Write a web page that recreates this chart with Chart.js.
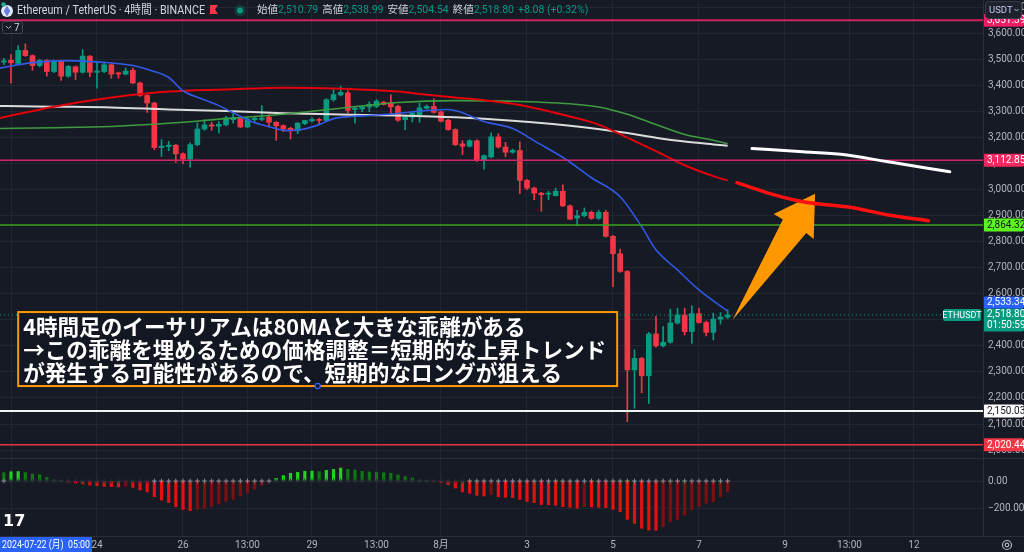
<!DOCTYPE html>
<html lang="ja">
<head>
<meta charset="utf-8">
<title>ETHUSDT 4時間</title>
<script src="https://cdn.jsdelivr.net/npm/chart.js@4.4.1/dist/chart.umd.min.js"></script>
<style>
  html, body { margin: 0; padding: 0; background: #161a25; overflow: hidden; }
  canvas { display: block; }
</style>
</head>
<body>
<canvas id="chart" width="1024" height="552"></canvas>
<script>
// ---- ETHUSDT 4h candles, oldest first (bar n is at x = n) ----
const opens = [
  3490, 3490, 3497, 3485, 3535, 3515, 3477, 3497, 3454, 3495,
  3436, 3472, 3451, 3513, 3451, 3454, 3480, 3449, 3444, 3459,
  3410, 3362, 3333, 3162, 3166, 3171, 3138, 3118, 3173, 3233,
  3249, 3244, 3249, 3269, 3274, 3241, 3269, 3270, 3279, 3259,
  3246, 3236, 3226, 3254, 3264, 3270, 3266, 3346, 3364, 3372,
  3308, 3310, 3318, 3320, 3336, 3333, 3320, 3269, 3279, 3288,
  3313, 3320, 3299, 3267, 3231, 3176, 3167, 3188, 3115, 3126,
  3203, 3164, 3144, 3151, 3036, 3006, 2987, 2983, 2977, 2994,
  2938, 2891, 2900, 2913, 2890, 2913, 2821, 2754, 2686, 2308,
  2352, 2285, 2446, 2400, 2414, 2488, 2519, 2455, 2524, 2490,
  2452, 2503, 2510.79
];
const highs = [
  3500, 3505, 3519, 3554, 3560, 3518, 3500, 3500, 3498, 3498,
  3477, 3475, 3538, 3515, 3492, 3490, 3484, 3452, 3467, 3467,
  3413, 3365, 3336, 3192, 3186, 3174, 3142, 3180, 3256, 3269,
  3259, 3262, 3282, 3295, 3278, 3277, 3282, 3323, 3289, 3262,
  3249, 3240, 3257, 3267, 3277, 3274, 3350, 3391, 3397, 3380,
  3320, 3323, 3338, 3346, 3340, 3365, 3325, 3285, 3297, 3333,
  3326, 3349, 3302, 3270, 3234, 3188, 3192, 3192, 3134, 3218,
  3215, 3182, 3156, 3184, 3040, 3010, 2990, 2994, 3006, 3019,
  2942, 2921, 2930, 2918, 2921, 2921, 2825, 2772, 2690, 2385,
  2356, 2452, 2513, 2474, 2541, 2545, 2545, 2554, 2545, 2495,
  2526, 2528, 2538.99
];
const lows = [
  3485, 3480, 3410, 3483, 3512, 3459, 3472, 3436, 3450, 3420,
  3432, 3423, 3448, 3433, 3390, 3450, 3428, 3428, 3441, 3407,
  3358, 3297, 3154, 3128, 3150, 3105, 3100, 3087, 3168, 3228,
  3228, 3218, 3245, 3256, 3238, 3238, 3262, 3265, 3246, 3190,
  3223, 3195, 3215, 3250, 3260, 3250, 3263, 3340, 3360, 3295,
  3256, 3300, 3300, 3315, 3325, 3288, 3262, 3231, 3260, 3259,
  3310, 3294, 3260, 3228, 3170, 3135, 3164, 3108, 3079, 3122,
  3160, 3126, 3140, 2985, 3000, 2962, 2917, 2962, 2975, 2935,
  2885, 2862, 2896, 2886, 2886, 2818, 2628, 2682, 2109, 2160,
  2220, 2179, 2395, 2396, 2410, 2484, 2442, 2410, 2487, 2438,
  2423, 2484, 2504.54
];
const closes = [
  3497, 3495, 3487, 3535, 3515, 3477, 3497, 3454, 3495, 3436,
  3474, 3451, 3513, 3451, 3456, 3480, 3444, 3444, 3456, 3410,
  3362, 3333, 3162, 3167, 3171, 3138, 3118, 3173, 3233, 3249,
  3244, 3251, 3276, 3277, 3241, 3272, 3274, 3275, 3259, 3245,
  3233, 3226, 3256, 3266, 3270, 3266, 3346, 3365, 3374, 3305,
  3313, 3318, 3328, 3340, 3328, 3318, 3267, 3279, 3295, 3314,
  3320, 3297, 3263, 3231, 3173, 3167, 3188, 3112, 3131, 3203,
  3164, 3144, 3151, 3036, 3006, 2987, 2981, 2987, 2994, 2938,
  2887, 2900, 2913, 2890, 2913, 2821, 2754, 2686, 2308, 2352,
  2285, 2446, 2400, 2414, 2488, 2519, 2455, 2524, 2490, 2452,
  2503, 2510.72, 2518.80
];

// ---- Squeeze momentum histogram, one value per bar ----
const momentum = [
  null, 62, 69, 70, 62, 52, 47, 27, 7, 2,
  -7, -15, -22, -30, -35, -40, -42, -44, -38, -47,
  -67, -81, -116, -141, -160, -190, -210, -220, -210, -202,
  -190, -170, -151, -136, -111, -86, -62, -32, -5, 20,
  40, 57, 64, 72, 74, 69, 79, 86, 96, 86,
  81, 72, 67, 66, 62, 57, 44, 32, 22, 7,
  3, -2, -12, -27, -52, -81, -91, -106, -111, -101,
  -116, -121, -123, -136, -151, -160, -175, -176, -180, -190,
  -195, -202, -190, -191, -195, -197, -210, -227, -284, -314,
  -350, -363, -365, -338, -301, -284, -252, -215, -190, -165,
  -153, -116, -79
];
// bars where the squeeze is off (grey crosses on the zero line)
const squeezeOffRanges = [[2, 2], [23, 39], [67, 103]];

// ---- Moving averages (bar position, value) ----
const maShortIdx = [1, 6, 11, 15.5, 20, 22.5, 25, 27, 29.5, 32, 34, 36.5, 39, 41.5, 43.5, 46, 48, 50.5, 53,
                    56.5, 61, 64, 65.5, 69, 73, 76.5, 80.5, 84, 88, 91, 93, 96, 99, 103];
const maShortVal = [3465, 3488, 3496, 3490, 3477, 3458, 3431, 3380, 3350, 3323, 3296, 3262, 3242, 3227, 3231, 3250, 3273, 3281, 3285,
                    3292, 3304, 3308, 3300, 3262, 3235, 3180, 3115, 3046, 2973, 2858, 2769, 2692, 2615, 2533.34];
const ma80Idx = [1, 9, 17, 25, 33, 41, 49, 57, 61, 65, 69, 73, 77, 81, 85, 89, 93, 97, 101, 103];
const ma80Val = [3273, 3319, 3354, 3377, 3385, 3392, 3388, 3377, 3365, 3354, 3344, 3330, 3308, 3281, 3250, 3200, 3148, 3094, 3052, 3035];
const maMidIdx = [1, 9, 17, 25, 33, 41, 49, 57, 65, 73, 81, 85, 89, 93, 97, 101, 103];
const maMidVal = [3235, 3238, 3243, 3255, 3273, 3290, 3313, 3335, 3342, 3340, 3330, 3318, 3290, 3250, 3212, 3190, 3177];
const maLongIdx = [1, 9, 17, 25, 33, 41, 49, 57, 65, 73, 81, 89, 93, 97, 101, 103];
const maLongVal = [3322, 3319, 3316, 3308, 3302, 3294, 3289, 3285, 3278, 3265, 3246, 3218, 3200, 3185, 3174, 3169];

// hand-drawn continuation of the 80MA and the long MA
const ma80ProjIdx = [104.3, 108.9, 113.5, 120.5, 125.2, 131];
const ma80ProjVal = [3027, 2985, 2954, 2931, 2904, 2881];
const maLongProjIdx = [106.4, 113.5, 119.1, 125.2, 134];
const maLongProjVal = [3158, 3146, 3135, 3108, 3069];

// ---- Horizontal levels ----
const levelPrices = [3651.39, 3112.85, 2864.32, 2150.03, 2020.44];

// ---- Axis ticks ----
const priceTicks = [2000, 2100, 2200, 2300, 2400, 2500, 2600, 2700, 2800, 2900, 3000, 3100, 3200, 3300, 3400, 3500, 3600, 3700];
const momentumTicks = [0, -200];
const timeTickIdx = [3, 15, 27, 36, 45, 54, 63, 75, 87, 99, 111, 120, 129];
const timeTickLabels = ['22', '24', '26', '13:00', '29', '13:00', '8月', '3', '5', '7', '9', '13:00', '12'];

// ---- Texts ----
const symbolTitle = 'Ethereum / TetherUS · 4時間 · BINANCE';
const ohlcLabels = ['始値', '高値', '安値', '終値'];
const barCountdown = '01:50:59';
const crosshairTime = '2024-07-22 (月)  05:00';
const noteLines = [
  '4時間足のイーサリアムは80MAと大きな乖離がある',
  '→この乖離を埋めるための価格調整＝短期的な上昇トレンド',
  'が発生する可能性があるので、短期的なロングが狙える'
];
const noteAnchor = [4, 2530];        // top-left corner of the note (bar, price)
const arrowTail = [103.7, 2500];     // arrow start (bar, price)
const arrowTip = [115.2, 2984];      // arrow head (bar, price)

// ---------------------------------------------------------------------------
const BG = '#161a25';
const GRID = 'rgba(42,46,57,0.6)';
const BORDER = '#2a2e39';
const AXIS_TEXT = '#b2b5be';
const UP = '#089981';
const DOWN = '#f23645';
const FONT = 'Roboto, "Noto Sans CJK JP", sans-serif';
const VIEW = { xMin: 1.465, xMax: 138.63, pMin: 1969.4, pMax: 3728.7, mMin: -407.4, mMax: 170.4 };

const levelStyles = [
  { line: '#d3215f', width: 2,   box: '#e91e63', text: '#ffffff' },
  { line: '#d6246a', width: 1.5, box: '#f2295f', text: '#ffffff' },
  { line: '#3aa51c', width: 1.5, box: '#5cf51f', text: '#131722' },
  { line: '#f2f2f2', width: 2,   box: '#ffffff', text: '#131722' },
  { line: '#e8323c', width: 1.5, box: '#f23645', text: '#ffffff' }
];

const fmt = v => (v < 0 ? '\u2212' : '') + Math.abs(v).toLocaleString('en-US', { minimumFractionDigits: 2, maximumFractionDigits: 2 });

const bars = opens.map((o, i) => i + 1);
const candleColors = bars.map((k, i) => closes[i] >= opens[i] ? UP : DOWN);

const momColors = momentum.map((v, i) => {
  if (v === null) return 'rgba(0,0,0,0)';
  const prev = i > 0 && momentum[i - 1] !== null ? momentum[i - 1] : v;
  if (v >= 0) return v > prev ? '#1fd41f' : '#0f7a12';
  return v < prev ? '#e3120f' : '#7c0f10';
});
const squeezeColors = bars.map(k =>
  squeezeOffRanges.some(r => k >= r[0] && k <= r[1]) ? '#8a8d96' : '#2a2e39');

const pts = (xs, ys) => xs.map((x, i) => ({ x, y: ys[i] }));
const lineSet = (label, data, color, width, order, extra) => Object.assign({
  type: 'line', label, data, borderColor: color, borderWidth: width, pointRadius: 0, pointHoverRadius: 0,
  tension: 0.4, cubicInterpolationMode: 'monotone', fill: false, order, xAxisID: 'x', yAxisID: 'y'
}, extra || {});

const datasets = [
  lineSet('ma80proj', pts(ma80ProjIdx, ma80ProjVal), '#ff1010', 3.5, 0, { borderCapStyle: 'round' }),
  lineSet('maLongProj', pts(maLongProjIdx, maLongProjVal), '#ffffff', 3, 1, { borderCapStyle: 'round' })
];
levelPrices.forEach((p, i) => {
  datasets.push(lineSet('level' + i, [{ x: VIEW.xMin, y: p }, { x: VIEW.xMax, y: p }],
    levelStyles[i].line, levelStyles[i].width, 2, { tension: 0 }));
});
datasets.push(
  lineSet('lastPrice', [{ x: VIEW.xMin, y: closes[closes.length - 1] }, { x: VIEW.xMax, y: closes[closes.length - 1] }],
    UP, 1, 3, { tension: 0, borderDash: [1, 3] }),
  lineSet('maShort', pts(maShortIdx, maShortVal), '#3159e6', 1.6, 4),
  lineSet('ma80', pts(ma80Idx, ma80Val), '#e3000b', 2, 4),
  lineSet('maMid', pts(maMidIdx, maMidVal), '#3f9b3f', 1.6, 5),
  lineSet('maLong', pts(maLongIdx, maLongVal), '#dcdcdc', 2, 5),
  {
    type: 'bar', label: 'bodies', data: bars.map((k, i) => ({ x: k, y: [opens[i], closes[i]] })),
    backgroundColor: candleColors, borderWidth: 0, barThickness: 5, maxBarThickness: 5,
    grouped: false, minBarLength: 1, order: 7, xAxisID: 'x', yAxisID: 'y'
  },
  {
    type: 'bar', label: 'wicks', data: bars.map((k, i) => ({ x: k, y: [lows[i], highs[i]] })),
    backgroundColor: candleColors, borderWidth: 0, barThickness: 1, maxBarThickness: 1,
    grouped: false, order: 8, xAxisID: 'x', yAxisID: 'y'
  },
  {
    type: 'scatter', label: 'squeeze', data: bars.slice(1).map(k => ({ x: k, y: 0 })),
    pointStyle: 'cross', pointRadius: 2.4, pointHoverRadius: 0, pointBorderWidth: 1,
    pointBorderColor: squeezeColors.slice(1), pointBackgroundColor: squeezeColors.slice(1),
    order: 9, xAxisID: 'x', yAxisID: 'yMom'
  },
  {
    type: 'bar', label: 'momentum',
    data: bars.slice(1).map(k => ({ x: k, y: momentum[k - 1] })),
    backgroundColor: momColors.slice(1), borderWidth: 0, barThickness: 2.5, maxBarThickness: 2.5,
    grouped: false, order: 10, xAxisID: 'x', yAxisID: 'yMom'
  }
);

// ---------------------------------------------------------------------------
function toPx(chart, pair) {
  return { x: chart.scales.x.getPixelForValue(pair[0]), y: chart.scales.y.getPixelForValue(pair[1]) };
}

function roundRect(ctx, x, y, w, h, r) {
  ctx.beginPath();
  ctx.moveTo(x + r, y);
  ctx.arcTo(x + w, y, x + w, y + h, r);
  ctx.arcTo(x + w, y + h, x, y + h, r);
  ctx.arcTo(x, y + h, x, y, r);
  ctx.arcTo(x, y, x + w, y, r);
  ctx.closePath();
}

function drawArrow(chart) {
  const ctx = chart.ctx;
  const t = toPx(chart, arrowTail), p = toPx(chart, arrowTip);
  const L = Math.hypot(p.x - t.x, p.y - t.y);
  const ux = (p.x - t.x) / L, uy = (p.y - t.y) / L;
  const nx = -uy, ny = ux;
  const at = (along, side) => [p.x + ux * along + nx * side, p.y + uy * along + ny * side];
  const poly = [[t.x, t.y], at(-39, -13), at(-39.5, -23.5), [p.x, p.y], at(-38.5, 23.5), at(-37.5, 14)];
  ctx.save();
  ctx.fillStyle = '#ff9800';
  ctx.beginPath();
  poly.forEach((q, i) => i ? ctx.lineTo(q[0], q[1]) : ctx.moveTo(q[0], q[1]));
  ctx.closePath();
  ctx.fill();
  ctx.restore();
}

function drawNote(chart) {
  const ctx = chart.ctx;
  const a = toPx(chart, noteAnchor);
  const w = 599, h = 74;
  ctx.save();
  ctx.fillStyle = 'rgba(19,23,34,0.92)';
  ctx.fillRect(a.x, a.y, w, h);
  ctx.strokeStyle = '#ff9800';
  ctx.lineWidth = 2;
  ctx.strokeRect(a.x, a.y, w, h);
  ctx.fillStyle = '#ffffff';
  ctx.font = 'bold 21.6px "Noto Sans CJK JP"';
  ctx.textBaseline = 'middle';
  noteLines.forEach((t, i) => ctx.fillText(t, a.x + 5, a.y + 15 + i * 23, w - 10));
  ctx.beginPath();
  ctx.arc(a.x + w / 2, a.y + h, 2.6, 0, Math.PI * 2);
  ctx.fillStyle = BG;
  ctx.fill();
  ctx.strokeStyle = '#2962ff';
  ctx.lineWidth = 1.2;
  ctx.stroke();
  ctx.restore();
}

function axisBox(ctx, left, yc, w, h, bg, fg, text) {
  ctx.fillStyle = bg;
  roundRect(ctx, left, yc - h / 2, w, h, 2);
  ctx.fill();
  ctx.fillStyle = fg;
  ctx.font = '10px ' + FONT;
  ctx.textBaseline = 'middle';
  ctx.textAlign = 'left';
  ctx.fillText(text, left + 4, yc + 0.5);
}

function drawPriceLabels(chart) {
  const ctx = chart.ctx, ys = chart.scales.y, left = ys.left, w = chart.width - left;
  ctx.save();
  levelPrices.forEach((p, i) => {
    axisBox(ctx, left, ys.getPixelForValue(p), w, 13, levelStyles[i].box, levelStyles[i].text, fmt(p));
  });
  // last price + countdown, with the short MA value stacked above it
  const last = closes[closes.length - 1];
  const ly = ys.getPixelForValue(last);
  const top = ly - 6.5;
  ctx.fillStyle = UP;
  roundRect(ctx, left, top, w, 23, 2);
  ctx.fill();
  ctx.fillStyle = '#ffffff';
  ctx.font = '10px ' + FONT;
  ctx.textBaseline = 'middle';
  ctx.fillText(fmt(last), left + 4, top + 6.5);
  ctx.fillText(barCountdown, left + 4, top + 17);
  axisBox(ctx, left, top - 6, w, 12, '#2962ff', '#ffffff', fmt(maShortVal[maShortVal.length - 1]));
  // symbol tag on the last price line
  ctx.fillStyle = UP;
  roundRect(ctx, left - 40, ly - 6, 38, 12, 2);
  ctx.fill();
  ctx.fillStyle = '#ffffff';
  ctx.font = '9px ' + FONT;
  ctx.textAlign = 'center';
  ctx.fillText('ETHUSDT', left - 21, ly + 0.5);
  ctx.restore();
}

function drawHeader(chart) {
  const ctx = chart.ctx;
  ctx.save();
  // coin icon
  ctx.beginPath(); ctx.arc(7, 11, 6, 0, Math.PI * 2); ctx.fillStyle = '#e4e7f7'; ctx.fill();
  ctx.fillStyle = '#627eea';
  ctx.beginPath(); ctx.moveTo(7, 5.5); ctx.lineTo(10.2, 11); ctx.lineTo(7, 16.5); ctx.lineTo(3.8, 11); ctx.closePath(); ctx.fill();
  ctx.beginPath(); ctx.arc(3.5, 4.5, 2.3, 0, Math.PI * 2); ctx.fillStyle = '#22ab94'; ctx.fill();
  // title
  ctx.fillStyle = '#d1d4dc';
  ctx.font = '12px ' + FONT;
  ctx.textBaseline = 'middle';
  ctx.fillText(symbolTitle, 17, 10.5, 188);
  // flag
  ctx.fillStyle = '#f23645';
  ctx.beginPath(); ctx.moveTo(210, 5); ctx.lineTo(218, 5); ctx.lineTo(215, 9.5); ctx.lineTo(218, 14); ctx.lineTo(210, 14); ctx.closePath(); ctx.fill();
  // market status dot
  ctx.beginPath(); ctx.arc(240, 10.5, 6, 0, Math.PI * 2); ctx.fillStyle = 'rgba(8,153,129,0.22)'; ctx.fill();
  ctx.beginPath(); ctx.arc(240, 10.5, 3, 0, Math.PI * 2); ctx.fillStyle = '#089981'; ctx.fill();
  // OHLC values of the last bar
  const n = closes.length - 1;
  const vals = [opens[n], highs[n], lows[n], closes[n]];
  const chg = closes[n] - closes[n - 1];
  const pct = chg / closes[n - 1] * 100;
  let x = 257;
  ctx.font = '10.5px ' + FONT;
  ohlcLabels.forEach((lab, i) => {
    ctx.fillStyle = '#d1d4dc';
    ctx.fillText(lab, x, 10.5);
    x += ctx.measureText(lab).width;
    ctx.fillStyle = '#089981';
    const s = fmt(vals[i]);
    ctx.fillText(s, x, 10.5);
    x += ctx.measureText(s).width + 4;
  });
  ctx.fillStyle = '#089981';
  ctx.fillText((chg >= 0 ? '+' : '') + chg.toFixed(2) + ' (' + (pct >= 0 ? '+' : '') + pct.toFixed(2) + '%)', x, 10.5);
  // collapsed indicator list
  ctx.strokeStyle = '#434651';
  ctx.lineWidth = 1;
  roundRect(ctx, 2.5, 21.5, 20, 12, 2.5);
  ctx.stroke();
  ctx.strokeStyle = '#b2b5be';
  ctx.beginPath(); ctx.moveTo(6, 26); ctx.lineTo(8.5, 28.5); ctx.lineTo(11, 26); ctx.stroke();
  ctx.fillStyle = '#d1d4dc';
  ctx.font = '10px ' + FONT;
  ctx.fillText('7', 14, 28);
  ctx.restore();
}

function drawFrame(chart) {
  const ctx = chart.ctx, ca = chart.chartArea, mom = chart.scales.yMom;
  ctx.save();
  ctx.strokeStyle = BORDER;
  ctx.lineWidth = 1;
  ctx.beginPath();
  ctx.moveTo(ca.right + 0.5, 0); ctx.lineTo(ca.right + 0.5, ca.bottom);
  ctx.moveTo(0, ca.bottom + 0.5); ctx.lineTo(chart.width, ca.bottom + 0.5);
  ctx.moveTo(0, mom.top + 0.5); ctx.lineTo(chart.width, mom.top + 0.5);
  ctx.stroke();
  // currency selector
  ctx.fillStyle = '#1e222d';
  roundRect(ctx, 985.5, 1.5, 36, 17, 3);
  ctx.fill();
  ctx.strokeStyle = '#363a45';
  ctx.stroke();
  ctx.fillStyle = '#c3c6f0';
  ctx.font = '9.5px ' + FONT;
  ctx.textBaseline = 'middle';
  ctx.fillText('USDT', 989, 10.5);
  ctx.strokeStyle = '#b2b5be';
  ctx.beginPath(); ctx.moveTo(1014.5, 9); ctx.lineTo(1016.5, 11); ctx.lineTo(1018.5, 9); ctx.stroke();
  // crosshair time label
  ctx.fillStyle = '#2962ff';
  ctx.fillRect(0, ca.bottom + 1, 92, chart.height - ca.bottom - 1);
  ctx.fillStyle = '#ffffff';
  ctx.font = '10px ' + FONT;
  ctx.textAlign = 'center';
  ctx.fillText(crosshairTime, 46, (ca.bottom + chart.height) / 2 + 1, 88);
  // settings gear
  ctx.strokeStyle = '#b2b5be';
  ctx.lineWidth = 1.2;
  ctx.beginPath(); ctx.arc(1007, 545, 4.5, 0, Math.PI * 2); ctx.stroke();
  ctx.beginPath(); ctx.arc(1007, 545, 1.8, 0, Math.PI * 2); ctx.stroke();
  // logo
  ctx.fillStyle = '#ffffff';
  ctx.font = 'bold 16px "DejaVu Sans"';
  ctx.textAlign = 'left';
  ctx.fillText('17', 3, 522);
  ctx.restore();
}

const decor = {
  id: 'decor',
  beforeDraw(chart) {
    const c = chart.ctx;
    c.save(); c.fillStyle = BG; c.fillRect(0, 0, chart.width, chart.height); c.restore();
  },
  beforeDatasetDraw(chart, args) {
    if (chart.data.datasets[args.index].label === 'ma80proj') drawArrow(chart);
  },
  afterDatasetsDraw(chart) { drawNote(chart); },
  afterDraw(chart) {
    drawPriceLabels(chart);
    drawHeader(chart);
    drawFrame(chart);
  }
};

const noPad = s => { s.paddingTop = 0; s.paddingBottom = 0; s.paddingLeft = 0; s.paddingRight = 0; };

new Chart(document.getElementById('chart'), {
  type: 'line',
  data: { datasets },
  plugins: [decor],
  options: {
    responsive: false,
    animation: false,
    events: [],
    layout: { padding: 0, autoPadding: false },
    plugins: { legend: { display: false }, tooltip: { enabled: false } },
    scales: {
      x: {
        type: 'linear', position: 'bottom', min: VIEW.xMin, max: VIEW.xMax, offset: false,
        grid: { color: GRID, drawTicks: false, offset: false },
        border: { display: false },
        ticks: {
          color: AXIS_TEXT, font: { family: FONT, size: 10 }, padding: 3, autoSkip: false, maxRotation: 0,
          callback: v => timeTickLabels[timeTickIdx.indexOf(v)]
        },
        afterBuildTicks: s => { s.ticks = timeTickIdx.map(v => ({ value: v })); },
        afterFit: s => { s.height = 16; noPad(s); }
      },
      y: {
        type: 'linear', position: 'right', stack: 'pane', stackWeight: 458,
        min: VIEW.pMin, max: VIEW.pMax, beginAtZero: false,
        grid: { color: GRID, drawTicks: false },
        border: { display: false },
        ticks: { color: AXIS_TEXT, font: { family: FONT, size: 10 }, padding: 5, autoSkip: false, callback: v => fmt(v) },
        afterBuildTicks: s => { s.ticks = priceTicks.map(v => ({ value: v })); },
        afterFit: s => { s.width = 41; noPad(s); }
      },
      yMom: {
        type: 'linear', position: 'right', stack: 'pane', stackWeight: 78,
        min: VIEW.mMin, max: VIEW.mMax, beginAtZero: false,
        grid: { color: GRID, drawTicks: false },
        border: { display: false },
        ticks: { color: AXIS_TEXT, font: { family: FONT, size: 10 }, padding: 5, autoSkip: false, callback: v => fmt(v) },
        afterBuildTicks: s => { s.ticks = momentumTicks.map(v => ({ value: v })); },
        afterFit: s => { s.width = 41; noPad(s); }
      }
    }
  }
});
</script>
</body>
</html>
